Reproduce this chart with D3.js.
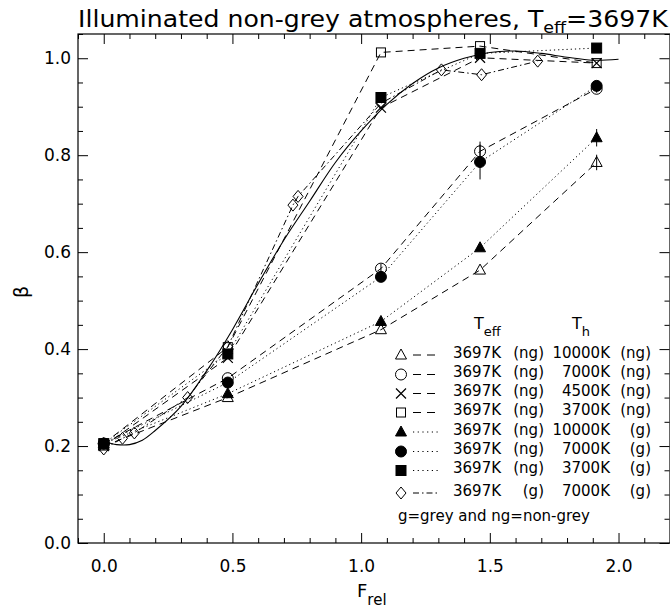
<!DOCTYPE html>
<html><head><meta charset="utf-8">
<script src="https://cdn.jsdelivr.net/npm/d3@7"></script>
<style>body{margin:0;background:#fff}svg{display:block}text{font-family:"DejaVu Sans",sans-serif;fill:#000}</style>
</head><body>
<svg id="c" width="670" height="614"></svg>
<script>
// ---- data ----
const xTicks = [0.0, 0.5, 1.0, 1.5, 2.0];
const yTicks = [0.0, 0.2, 0.4, 0.6, 0.8, 1.0];
const xMain = [0, 0.482, 1.077, 1.462, 1.915];
const triOpenY  = [0.200, 0.300, 0.440, 0.563, 0.785];
const circOpenY = [0.205, 0.340, 0.566, 0.808, 0.937];
const crossY    = [0.200, 0.382, 0.898, 1.001, 0.990];
const sqOpenY   = [0.205, 0.404, 1.012, 1.025, 0.990];
const triFillY  = [0.205, 0.308, 0.457, 0.609, 0.836];
const circFillY = [0.205, 0.331, 0.549, 0.786, 0.943];
const sqFillY   = [0.205, 0.390, 0.919, 1.010, 1.021];
const triOpenErr  = [0, 0, 0, 0, 0.016];
const circOpenErr = [0, 0, 0.010, 0.020, 0.008];
const triFillErr  = [0, 0, 0, 0, 0.018];
const circFillErr = [0, 0, 0, 0.036, 0.008];
const diamX = [0, 0.073, 0.119, 0.326, 0.482, 0.735, 0.755, 1.077, 1.312, 1.468, 1.686];
const diamY = [0.194, 0.216, 0.227, 0.300, 0.405, 0.697, 0.715, 0.907, 0.976, 0.966, 0.994];
const fitX = [0, 0.05, 0.1, 0.15, 0.2, 0.3, 0.4, 0.5, 0.6, 0.7, 0.8, 0.9, 1.0, 1.1, 1.2, 1.3, 1.4, 1.5, 1.6, 1.7, 1.8, 1.9, 2.0];
const fitY = [0.210, 0.203, 0.203, 0.212, 0.232, 0.282, 0.355, 0.440, 0.535, 0.625, 0.705, 0.785, 0.850, 0.905, 0.948, 0.980, 1.000, 1.012, 1.015, 1.010, 1.002, 0.996, 0.998];
const legendTeff = ["3697K", "3697K", "3697K", "3697K", "3697K", "3697K", "3697K", "3697K"];
const legendTeffType = ["(ng)", "(ng)", "(ng)", "(ng)", "(ng)", "(ng)", "(ng)", "(g)"];
const legendTh = ["10000K", "7000K", "4500K", "3700K", "10000K", "7000K", "3700K", "7000K"];
const legendThType = ["(ng)", "(ng)", "(ng)", "(ng)", "(g)", "(g)", "(g)", "(g)"];

const series = [
  {x: xMain, y: triOpenY, err: triOpenErr, sym: "triO", dash: "dash"},
  {x: xMain, y: circOpenY, err: circOpenErr, sym: "circO", dash: "dash"},
  {x: xMain, y: crossY, err: null, sym: "cross", dash: "dash"},
  {x: xMain, y: sqOpenY, err: null, sym: "sqO", dash: "dash"},
  {x: xMain, y: triFillY, err: triFillErr, sym: "triF", dash: "dot"},
  {x: xMain, y: circFillY, err: circFillErr, sym: "circF", dash: "dot"},
  {x: xMain, y: sqFillY, err: null, sym: "sqF", dash: "dot"},
  {x: diamX, y: diamY, err: null, sym: "diam", dash: "dashdot"}
];
const dashes = {dash: "7,5", dot: "1.2,3", dashdot: "6,3,1.5,3"};

const svg = d3.select("#c");
const L = 78, R = 670, T = 34, B = 543;
const xs = d3.scaleLinear().domain([-0.1, 2.2]).range([L, R]);
const ys = d3.scaleLinear().domain([0, 1.05]).range([B, T]);

// frame
svg.append("rect").attr("x", L).attr("y", T).attr("width", R - L).attr("height", B - T)
  .attr("fill", "none").attr("stroke", "#000").attr("stroke-width", 1.2);

const xMinor = d3.range(-0.1, 2.201, 0.1).map(v => +v.toFixed(2)).filter(v => !xTicks.includes(v));
const yMinor = d3.range(0, 1.051, 0.05).map(v => +v.toFixed(2)).filter(v => !yTicks.includes(v));

function styleAxis(g) { g.select(".domain").remove(); g.selectAll("line").attr("stroke", "#000"); g.selectAll("text").attr("font-size", 17).attr("font-family", "DejaVu Sans"); }
svg.append("g").attr("transform", `translate(0,${B})`)
  .call(d3.axisBottom(xs).tickValues(xTicks).tickSize(-10).tickPadding(17).tickFormat(d3.format(".1f"))).call(styleAxis);
svg.append("g").attr("transform", `translate(0,${B})`)
  .call(d3.axisBottom(xs).tickValues(xMinor).tickSize(-5).tickFormat("")).call(styleAxis);
svg.append("g").attr("transform", `translate(0,${T})`)
  .call(d3.axisTop(xs).tickValues(xTicks).tickSize(-10).tickFormat("")).call(styleAxis);
svg.append("g").attr("transform", `translate(0,${T})`)
  .call(d3.axisTop(xs).tickValues(xMinor).tickSize(-5).tickFormat("")).call(styleAxis);
svg.append("g").attr("transform", `translate(${L},0)`)
  .call(d3.axisLeft(ys).tickValues(yTicks).tickSize(-10).tickPadding(7).tickFormat(d3.format(".1f"))).call(styleAxis);
svg.append("g").attr("transform", `translate(${L},0)`)
  .call(d3.axisLeft(ys).tickValues(yMinor).tickSize(-5).tickFormat("")).call(styleAxis);
svg.append("g").attr("transform", `translate(${R - 0.5},0)`)
  .call(d3.axisRight(ys).tickValues(yTicks).tickSize(-10).tickFormat("")).call(styleAxis);
svg.append("g").attr("transform", `translate(${R - 0.5},0)`)
  .call(d3.axisRight(ys).tickValues(yMinor).tickSize(-5).tickFormat("")).call(styleAxis);

// symbols
function drawSym(g, type, cx, cy) {
  const s = g.append("g").attr("transform", `translate(${cx},${cy})`);
  if (type === "triO" || type === "triF") {
    s.append("path").attr("d", "M0,-6L5.5,4L-5.5,4Z").attr("fill", type === "triF" ? "#000" : "none").attr("stroke", "#000").attr("stroke-width", 1);
  } else if (type === "circO" || type === "circF") {
    s.append("circle").attr("r", 5.5).attr("fill", type === "circF" ? "#000" : "none").attr("stroke", "#000").attr("stroke-width", 1);
  } else if (type === "sqO" || type === "sqF") {
    const h = type === "sqF" ? 5 : 4.5;
    s.append("rect").attr("x", -h).attr("y", -h).attr("width", 2 * h).attr("height", 2 * h).attr("fill", type === "sqF" ? "#000" : "none").attr("stroke", "#000").attr("stroke-width", 1);
  } else if (type === "cross") {
    s.append("path").attr("d", "M-5,-5L5,5M-5,5L5,-5").attr("stroke", "#000").attr("stroke-width", 1.2).attr("fill", "none");
  } else if (type === "diam") {
    s.append("path").attr("d", "M0,-6L5,0L0,6L-5,0Z").attr("fill", "none").attr("stroke", "#000").attr("stroke-width", 1);
  }
}

const plot = svg.append("g");
// fit curve
plot.append("path").datum(fitX.map((x, i) => [x, fitY[i]]))
  .attr("d", d3.line().x(d => xs(d[0])).y(d => ys(d[1])).curve(d3.curveCatmullRom))
  .attr("fill", "none").attr("stroke", "#000").attr("stroke-width", 1.1);

series.forEach(s => {
  const pts = s.x.map((x, i) => [x, s.y[i]]);
  plot.append("path").datum(pts)
    .attr("d", d3.line().x(d => xs(d[0])).y(d => ys(d[1])))
    .attr("fill", "none").attr("stroke", "#000").attr("stroke-width", 1)
    .attr("stroke-dasharray", dashes[s.dash]);
  if (s.err) {
    s.err.forEach((e, i) => {
      if (e > 0) plot.append("line").attr("x1", xs(s.x[i])).attr("x2", xs(s.x[i]))
        .attr("y1", ys(s.y[i] - e)).attr("y2", ys(s.y[i] + e)).attr("stroke", "#000").attr("stroke-width", 1);
    });
  }
  pts.forEach(p => drawSym(plot, s.sym, xs(p[0]), ys(p[1])));
});

// legend
const lg = svg.append("g");
const rowY = [352, 371.5, 390.5, 409.5, 429, 448.5, 467.5, 490];
const hdr = lg.append("text").attr("x", 474).attr("y", 329).attr("font-size", 16);
hdr.append("tspan").text("T");
hdr.append("tspan").attr("dy", 7).attr("font-size", 13).text("eff");
const hdr2 = lg.append("text").attr("x", 572).attr("y", 329).attr("font-size", 16);
hdr2.append("tspan").text("T");
hdr2.append("tspan").attr("dy", 7).attr("font-size", 13).text("h");
series.forEach((s, i) => {
  const y = rowY[i];
  drawSym(lg, s.sym, 401, y + 3);
  lg.append("line").attr("x1", 413).attr("x2", 438).attr("y1", y + 3).attr("y2", y + 3)
    .attr("stroke", "#000").attr("stroke-width", 1).attr("stroke-dasharray", s.dash === "dash" ? "8,6" : s.dash === "dot" ? "1.2,3.5" : "6,3,1.5,3");
  lg.append("text").attr("x", 453).attr("y", y + 5.5).attr("font-size", 15).text(legendTeff[i]);
  lg.append("text").attr("x", 544).attr("y", y + 5.5).attr("font-size", 15).attr("text-anchor", "end").text(legendTeffType[i]);
  lg.append("text").attr("x", 610).attr("y", y + 5.5).attr("font-size", 15).attr("text-anchor", "end").text(legendTh[i]);
  lg.append("text").attr("x", 651).attr("y", y + 5.5).attr("font-size", 15).attr("text-anchor", "end").text(legendThType[i]);
});
lg.append("text").attr("x", 398).attr("y", 521).attr("font-size", 15).text("g=grey and ng=non-grey");

// title
const title = svg.append("text").attr("x", 78).attr("y", 27).attr("font-size", 23);
title.append("tspan").text("Illuminated non-grey atmospheres, T");
title.append("tspan").attr("dy", 6).attr("font-size", 16).text("eff");
title.append("tspan").attr("dy", -6).text("=3697K");
// stretch to span the plot width as in the reference
const tw = title.node().getComputedTextLength();
const target = 590;
title.attr("transform", `translate(78,0) scale(${target / tw},1) translate(-78,0)`);

// axis titles
const xt = svg.append("text").attr("x", 357).attr("y", 597).attr("font-size", 18);
xt.append("tspan").text("F");
xt.append("tspan").attr("dy", 8).attr("font-size", 15).text("rel");
svg.append("text").attr("transform", "translate(28,292) rotate(-90)").attr("text-anchor", "middle")
  .attr("font-size", 19).text("β");
</script>
</body></html>
